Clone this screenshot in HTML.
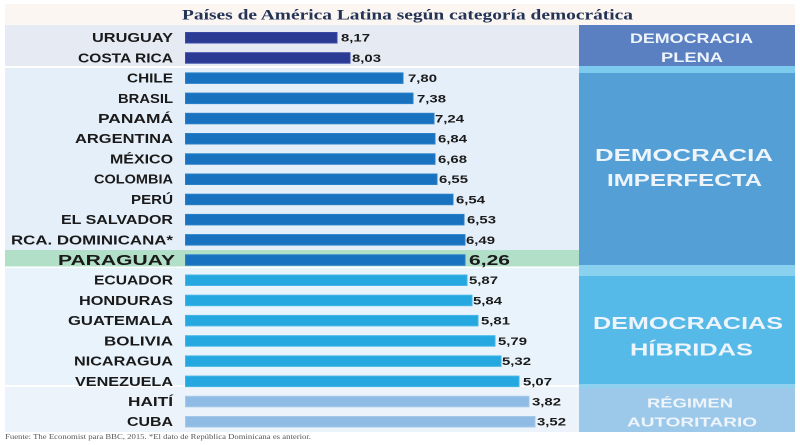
<!DOCTYPE html>
<html><head><meta charset="utf-8"><style>
html,body{margin:0;padding:0;background:#fff;}
svg{display:block;}
.lb{font-family:"Liberation Sans",sans-serif;font-weight:bold;font-size:12.5px;fill:#1a1a1a;}
.vl{font-family:"Liberation Sans",sans-serif;font-weight:bold;font-size:11px;fill:#1a1a1a;}
.bx{font-family:"Liberation Sans",sans-serif;font-weight:bold;fill:#eef4fb;}
</style></head><body>
<svg width="800" height="445" viewBox="0 0 800 445" xmlns="http://www.w3.org/2000/svg">
<rect x="0" y="0" width="800" height="445" fill="#ffffff"/>
<!-- title band -->
<rect x="5" y="4" width="790" height="21" fill="#fcf6f3"/>
<text x="182" y="19.5" textLength="451" lengthAdjust="spacingAndGlyphs" font-family="Liberation Serif, serif" font-weight="bold" font-size="14.5" fill="#233456">Países de América Latina según categoría democrática</text>

<!-- left bands -->
<rect x="5" y="25" width="574" height="41" fill="#e6eaf3"/>
<rect x="5" y="68" width="574" height="182" fill="#e5eff9"/>
<rect x="5" y="250" width="574" height="16.5" fill="#b2dfc8"/>
<rect x="5" y="268" width="574" height="117" fill="#e9f3fb"/>
<rect x="5" y="387" width="574" height="45" fill="#edf3fa"/>

<!-- right boxes -->
<rect x="579" y="25" width="216" height="41" fill="#5b80c1"/>
<rect x="579" y="66" width="216" height="7" fill="#7ccbef"/>
<rect x="579" y="73" width="216" height="192" fill="#539fd6"/>
<rect x="579" y="265" width="216" height="11" fill="#8ad0ef"/>
<rect x="579" y="276" width="216" height="108" fill="#55bae7"/>
<rect x="579" y="384" width="216" height="4" fill="#8fd0ef"/>
<rect x="579" y="388" width="216" height="44" fill="#9cc9ea"/>

<text class="bx" x="630" y="43" textLength="123" lengthAdjust="spacingAndGlyphs" font-size="13.5">DEMOCRACIA</text>
<text class="bx" x="661" y="62" textLength="62" lengthAdjust="spacingAndGlyphs" font-size="13.5">PLENA</text>
<text class="bx" x="595" y="161" textLength="178" lengthAdjust="spacingAndGlyphs" font-size="17.5">DEMOCRACIA</text>
<text class="bx" x="607" y="186" textLength="155" lengthAdjust="spacingAndGlyphs" font-size="17.5">IMPERFECTA</text>
<text class="bx" x="593" y="329" textLength="190" lengthAdjust="spacingAndGlyphs" font-size="17.5">DEMOCRACIAS</text>
<text class="bx" x="630" y="355.5" textLength="123" lengthAdjust="spacingAndGlyphs" font-size="17.5">HÍBRIDAS</text>
<text class="bx" x="647" y="407.5" textLength="86" lengthAdjust="spacingAndGlyphs" font-size="13">RÉGIMEN</text>
<text class="bx" x="627" y="426.5" textLength="130" lengthAdjust="spacingAndGlyphs" font-size="13">AUTORITARIO</text>

<!-- bars -->
<g stroke-width="1">
<rect x="185.5" y="32.5" width="151.5" height="10.5" fill="#2b3a92" stroke="#3a4aa8"/>
<rect x="185.5" y="52.7" width="164.5" height="10.5" fill="#2b3a92" stroke="#3a4aa8"/>
<rect x="185.5" y="72.9" width="217.5" height="10.5" fill="#1872c0" stroke="#2a80c8"/>
<rect x="185.5" y="93.1" width="227.5" height="10.5" fill="#1872c0" stroke="#2a80c8"/>
<rect x="185.5" y="113.3" width="248.5" height="10.5" fill="#1872c0" stroke="#2a80c8"/>
<rect x="185.5" y="133.5" width="249.5" height="10.5" fill="#1872c0" stroke="#2a80c8"/>
<rect x="185.5" y="153.8" width="249.5" height="10.5" fill="#1872c0" stroke="#2a80c8"/>
<rect x="185.5" y="174" width="251.5" height="10.5" fill="#1872c0" stroke="#2a80c8"/>
<rect x="185.5" y="194.2" width="267.5" height="10.5" fill="#1872c0" stroke="#2a80c8"/>
<rect x="185.5" y="214.4" width="278.5" height="10.5" fill="#1872c0" stroke="#2a80c8"/>
<rect x="185.5" y="234.6" width="279.5" height="10.5" fill="#1872c0" stroke="#2a80c8"/>
<rect x="185.5" y="254.8" width="279.5" height="10.5" fill="#1872c0" stroke="#2a80c8"/>
<rect x="185.5" y="275" width="281.5" height="10.5" fill="#25a8e0" stroke="#45b6e6"/>
<rect x="185.5" y="295.2" width="286.5" height="10.5" fill="#25a8e0" stroke="#45b6e6"/>
<rect x="185.5" y="315.4" width="292.5" height="10.5" fill="#25a8e0" stroke="#45b6e6"/>
<rect x="185.5" y="335.7" width="309.5" height="10.5" fill="#25a8e0" stroke="#45b6e6"/>
<rect x="185.5" y="355.9" width="315.5" height="10.5" fill="#25a8e0" stroke="#45b6e6"/>
<rect x="185.5" y="376.1" width="333.5" height="10.5" fill="#25a8e0" stroke="#45b6e6"/>
<rect x="185.5" y="396.3" width="343.5" height="10.5" fill="#8fbbe4" stroke="#a4c8ea"/>
<rect x="185.5" y="416.5" width="349.5" height="10.5" fill="#8fbbe4" stroke="#a4c8ea"/>
</g>

<!-- country labels -->
<text class="lb" x="92" y="42.2" textLength="81" lengthAdjust="spacingAndGlyphs">URUGUAY</text>
<text class="lb" x="78" y="62.4" textLength="95" lengthAdjust="spacingAndGlyphs">COSTA RICA</text>
<text class="lb" x="127" y="82.6" textLength="46" lengthAdjust="spacingAndGlyphs">CHILE</text>
<text class="lb" x="118" y="102.8" textLength="55" lengthAdjust="spacingAndGlyphs">BRASIL</text>
<text class="lb" x="98" y="123" textLength="75" lengthAdjust="spacingAndGlyphs">PANAMÁ</text>
<text class="lb" x="75" y="143.2" textLength="98" lengthAdjust="spacingAndGlyphs">ARGENTINA</text>
<text class="lb" x="110" y="163.5" textLength="63" lengthAdjust="spacingAndGlyphs">MÉXICO</text>
<text class="lb" x="94" y="183.7" textLength="79" lengthAdjust="spacingAndGlyphs">COLOMBIA</text>
<text class="lb" x="131" y="203.9" textLength="42" lengthAdjust="spacingAndGlyphs">PERÚ</text>
<text class="lb" x="61" y="224.1" textLength="112" lengthAdjust="spacingAndGlyphs">EL SALVADOR</text>
<text class="lb" x="11" y="244.3" textLength="162" lengthAdjust="spacingAndGlyphs">RCA. DOMINICANA*</text>
<text x="58" y="265" textLength="117" lengthAdjust="spacingAndGlyphs" font-family="Liberation Sans, sans-serif" font-weight="bold" font-size="15" fill="#1a1a1a">PARAGUAY</text>
<text class="lb" x="94" y="284.7" textLength="79" lengthAdjust="spacingAndGlyphs">ECUADOR</text>
<text class="lb" x="79" y="304.9" textLength="94" lengthAdjust="spacingAndGlyphs">HONDURAS</text>
<text class="lb" x="68" y="325.1" textLength="105" lengthAdjust="spacingAndGlyphs">GUATEMALA</text>
<text class="lb" x="104" y="345.4" textLength="69" lengthAdjust="spacingAndGlyphs">BOLIVIA</text>
<text class="lb" x="74" y="365.6" textLength="99" lengthAdjust="spacingAndGlyphs">NICARAGUA</text>
<text class="lb" x="75" y="385.8" textLength="98" lengthAdjust="spacingAndGlyphs">VENEZUELA</text>
<text class="lb" x="128" y="406" textLength="45" lengthAdjust="spacingAndGlyphs">HAITÍ</text>
<text class="lb" x="127" y="426.2" textLength="46" lengthAdjust="spacingAndGlyphs">CUBA</text>

<!-- values -->
<text class="vl" x="341" y="41.7" textLength="29" lengthAdjust="spacingAndGlyphs">8,17</text>
<text class="vl" x="352" y="61.9" textLength="29" lengthAdjust="spacingAndGlyphs">8,03</text>
<text class="vl" x="408" y="82.1" textLength="29" lengthAdjust="spacingAndGlyphs">7,80</text>
<text class="vl" x="417" y="102.3" textLength="29" lengthAdjust="spacingAndGlyphs">7,38</text>
<text class="vl" x="435" y="122.5" textLength="29" lengthAdjust="spacingAndGlyphs">7,24</text>
<text class="vl" x="438" y="142.7" textLength="29" lengthAdjust="spacingAndGlyphs">6,84</text>
<text class="vl" x="438" y="163" textLength="29" lengthAdjust="spacingAndGlyphs">6,68</text>
<text class="vl" x="439" y="183.2" textLength="29" lengthAdjust="spacingAndGlyphs">6,55</text>
<text class="vl" x="456" y="203.4" textLength="29" lengthAdjust="spacingAndGlyphs">6,54</text>
<text class="vl" x="467" y="223.6" textLength="29" lengthAdjust="spacingAndGlyphs">6,53</text>
<text class="vl" x="466" y="243.8" textLength="29" lengthAdjust="spacingAndGlyphs">6,49</text>
<text x="469" y="265" textLength="41" lengthAdjust="spacingAndGlyphs" font-family="Liberation Sans, sans-serif" font-weight="bold" font-size="15" fill="#1a1a1a">6,26</text>
<text class="vl" x="469" y="284.2" textLength="29" lengthAdjust="spacingAndGlyphs">5,87</text>
<text class="vl" x="473" y="304.4" textLength="29" lengthAdjust="spacingAndGlyphs">5,84</text>
<text class="vl" x="481" y="324.6" textLength="29" lengthAdjust="spacingAndGlyphs">5,81</text>
<text class="vl" x="498" y="344.9" textLength="29" lengthAdjust="spacingAndGlyphs">5,79</text>
<text class="vl" x="502" y="365.1" textLength="29" lengthAdjust="spacingAndGlyphs">5,32</text>
<text class="vl" x="523" y="385.3" textLength="29" lengthAdjust="spacingAndGlyphs">5,07</text>
<text class="vl" x="532" y="405.5" textLength="29" lengthAdjust="spacingAndGlyphs">3,82</text>
<text class="vl" x="537" y="425.7" textLength="29" lengthAdjust="spacingAndGlyphs">3,52</text>

<!-- footer -->
<text x="5" y="439" textLength="306" lengthAdjust="spacingAndGlyphs" font-family="Liberation Serif, serif" font-size="7" fill="#555">Fuente: The Economist para BBC,  2015.  *El dato de República Dominicana es anterior.</text>
</svg>
</body></html>
